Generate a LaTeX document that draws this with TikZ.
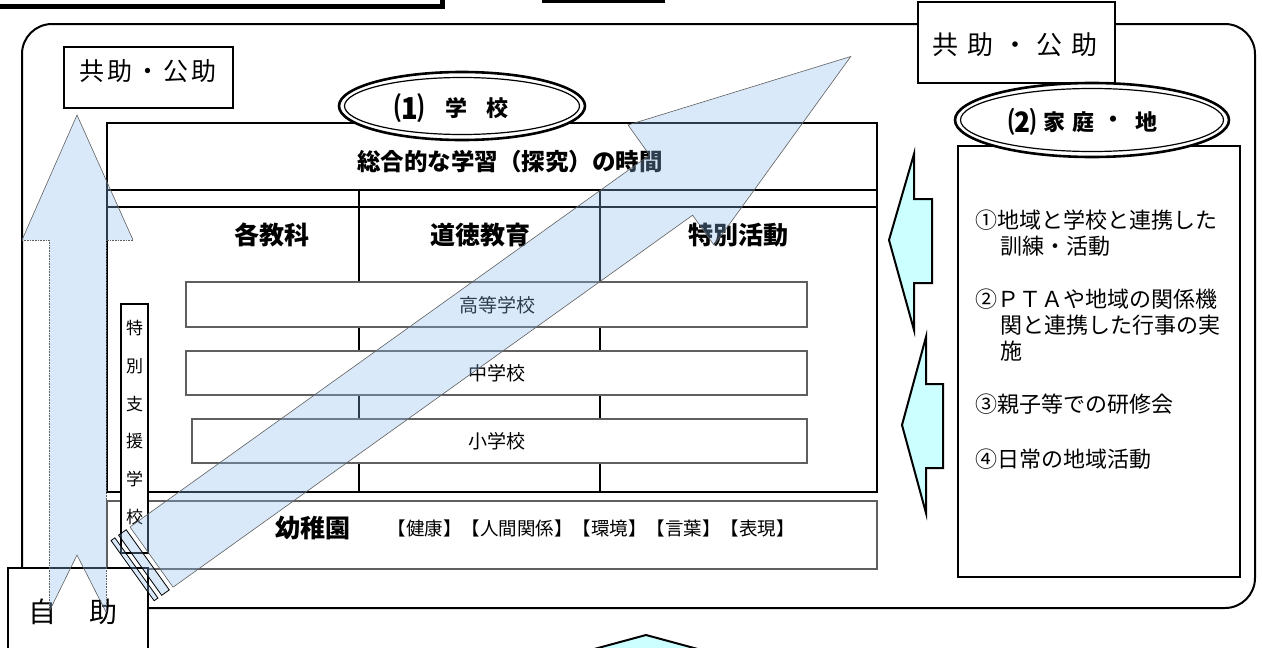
\documentclass[tikz,border=0pt]{standalone}
\usepackage{fontspec}
\setmainfont{Noto Sans CJK JP}
\usetikzlibrary{shapes.geometric}
\definecolor{arrowblue}{RGB}{138,188,238}
\definecolor{cyanfill}{RGB}{204,255,255}
\definecolor{thingray}{RGB}{95,95,95}
\begin{document}
\begin{tikzpicture}[x=1pt,y=-1pt,
  fs/.style={font=\fontsize{#1}{#1}\selectfont},
  bfs/.style={font=\fontsize{#1}{#1}\selectfont\bfseries},
  txt/.style={inner sep=0pt},
  plainbox/.style={draw, line width=1.5pt, fill=white},
  levelbox/.style={draw=thingray, line width=1.2pt, fill=white},
  cyanarrow/.style={draw=black, line width=2pt, fill=cyanfill, line join=miter},
  glass/.style={fill=arrowblue, fill opacity=0.32},
  glassedge/.style={draw=thingray, line width=0.6pt},
  rt/.style={inner sep=0pt, anchor=west, font=\fontsize{22}{22}\selectfont, text height=18.5pt, text depth=3.5pt},
]
\useasboundingbox (0,0) rectangle (1262,648);
\clip (0,0) rectangle (1262,648);

% remnants at top edge
\draw[line width=5pt] (-10,6.5) -- (442.5,6.5) -- (442.5,-10);
\fill (542,-5) rectangle (665,3);

% outer frame
\draw[line width=2pt, rounded corners=30pt] (22,24) rectangle (1255,608);

% mutual-help boxes
\draw[plainbox] (64,47) rectangle (233,108);
\node[txt, fs=25] (kyojoL) at (148,71) {共\kern3pt助\kern3pt・\kern3pt公\kern3pt助};
\draw[plainbox] (918,2) rectangle (1115,83);
\node[txt, fs=26] (kyojoR) at (1015,45) {共\kern9pt助\kern9pt・\kern9pt公\kern9pt助};

% school table
\draw[line width=1.3pt, fill=white] (107,123) rectangle (877,207);
\draw[line width=2pt] (107,190) rectangle (877,492);
\draw[line width=2pt] (359,190) -- (359,492);
\draw[line width=2pt] (600,190) -- (600,492);
\draw[levelbox] (186,282) rectangle (807,327);
\draw[levelbox] (186,351) rectangle (807,395);
\draw[levelbox] (192,419) rectangle (807,463);
\draw[levelbox] (107,501) rectangle (877,569);
\draw[line width=2pt, fill=white] (121,304) rectangle (148,553);

% home / community box
\draw[line width=1.5pt, fill=white] (958,146) rectangle (1240,577);

% double ellipses
\draw[line width=2.6pt, fill=white] (462,106) ellipse [x radius=123, y radius=34];
\draw[line width=1.2pt] (462,106) ellipse [x radius=117.5, y radius=28.5];
\draw[line width=2.6pt, fill=white] (1092,120) ellipse [x radius=137, y radius=37];
\draw[line width=1.2pt] (1092,120) ellipse [x radius=131.5, y radius=31.5];

% ellipse titles
\node[txt, bfs=30] (schoolA) at (409,108) {⑴};
\node[txt, bfs=22] (schoolB) at (456,108) {学};
\node[txt, bfs=22] (schoolC) at (497,108) {校};
\node[txt, bfs=28] (homeA) at (1022,122) {⑵};
\node[txt, bfs=22] (homeB) at (1054,122) {家};
\node[txt, bfs=22] (homeC) at (1083,122) {庭};
\node[txt, bfs=22] (homeD) at (1113,122) {・};
\node[txt, bfs=22] (homeE) at (1146,122) {地};

% table texts
\node[txt, bfs=23.5] (sogo) at (510,162) {総合的な学習（探究）の時間};
\node[txt, bfs=25] (kyoka) at (272,235) {各教科};
\node[txt, bfs=25] (dotoku) at (480,235) {道徳教育};
\node[txt, bfs=25] (tokkatsu) at (738,235) {特別活動};
\node[txt, fs=19] (koko) at (497,305) {高等学校};
\node[txt, fs=19] (chu) at (497,373) {中学校};
\node[txt, fs=19] (sho) at (497,441) {小学校};
\node[txt, bfs=25] (yochien) at (313,528) {幼稚園};
\node[txt, fs=18.5] (ryoiki) at (591,528) {【健康】【人間関係】【環境】【言葉】【表現】};
\node[txt, font=\fontsize{17}{37.8}\selectfont, align=center] (tokushi) at (134.5,422.5) {特\\別\\支\\援\\学\\校};

\node[rt] (h1) at (975,221) {①地域と学校と連携した};
\node[rt] (h1b) at (1000,247) {訓練・活動};
\node[rt] (h2) at (975,300) {②ＰＴＡや地域の関係機};
\node[rt] (h2b) at (1000,326) {関と連携した行事の実};
\node[rt] (h2c) at (1000,352) {施};
\node[rt] (h3) at (975,405) {③親子等での研修会};
\node[rt] (h4) at (975,460) {④日常の地域活動};

% self-help box
\draw[plainbox] (8,568) rectangle (148,670);
\node[txt, fs=28] (jijo) at (73,612) {自\kern34pt助};

% cyan block arrows
\draw[cyanarrow] (889,240) -- (914,154) -- (914,199) -- (932,199) -- (932,283) -- (914,283) -- (914,330) -- cycle;
\draw[cyanarrow] (902,425) -- (926,337) -- (926,384) -- (943,384) -- (943,468) -- (926,468) -- (926,513) -- cycle;
\draw[cyanarrow] (646,635) -- (550,661) -- (742,661) -- cycle;

% translucent vertical arrow
\fill[glass] (77,115) -- (133,240) -- (106,240) -- (106,612) -- (77,555) -- (49,612) -- (49,240) -- (22,240) -- cycle;
\draw[glassedge] (22,240) -- (77,115) -- (133,240);
\draw[glassedge, densely dotted] (133,240) -- (106,240) -- (106,612);
\draw[glassedge, densely dotted] (22,240) -- (49,240) -- (49,612);
\draw[glassedge] (49,612) -- (77,555) -- (106,612);

% translucent striped diagonal arrow
\begin{scope}[shift={(130,527)}, rotate=35.6]
  \fill[glass] (0,0) -- (639,0) -- (639,-37) -- (860,37) -- (639,111) -- (639,74) -- (0,74) -- cycle;
  \draw[glassedge] (0,0) -- (639,0) -- (639,-37) -- (860,37) -- (639,111) -- (639,74) -- (0,74) -- cycle;
  \fill[glass] (-14,0) rectangle (-4.7,74);
  \draw[glassedge, line width=0.8pt, draw=black] (-14,0) rectangle (-4.7,74);
  \fill[glass] (-23.3,0) rectangle (-18.6,74);
  \draw[glassedge, line width=0.8pt, draw=black] (-23.3,0) rectangle (-18.6,74);
\end{scope}
\end{tikzpicture}
\end{document}
